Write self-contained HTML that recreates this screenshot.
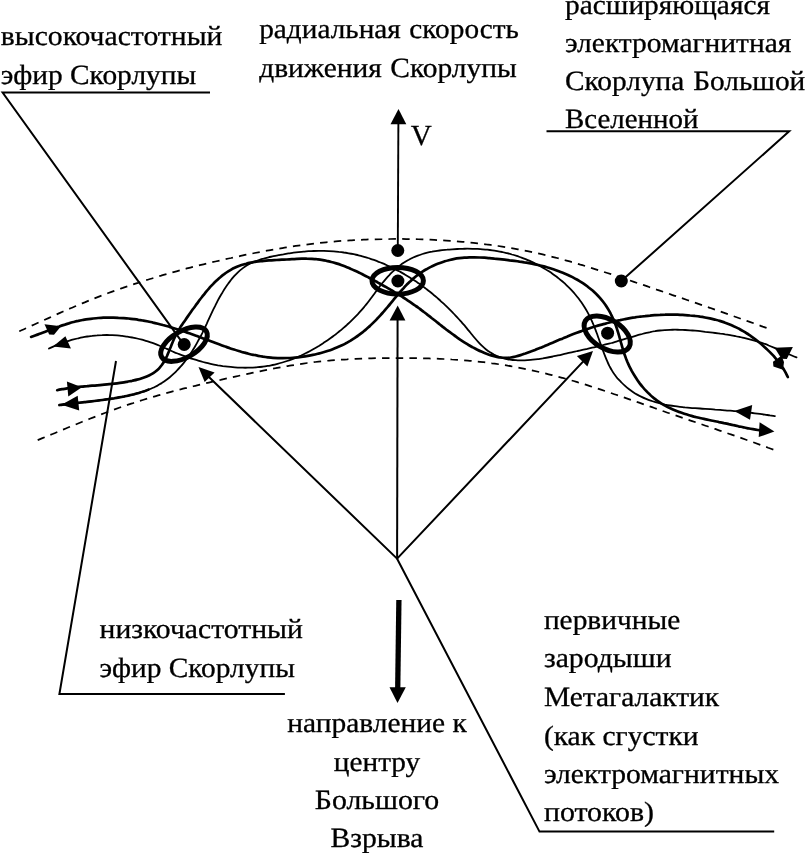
<!DOCTYPE html>
<html lang="ru">
<head>
<meta charset="utf-8">
<title>Скорлупа Большой Вселенной</title>
<style>
html,body{margin:0;padding:0;background:#fff;}
body{width:806px;height:854px;overflow:hidden;position:relative;}
svg{position:absolute;left:0;top:0;display:block;will-change:transform;}
text{font-family:"Liberation Serif",serif;font-size:27.9px;fill:#000;text-rendering:geometricPrecision;stroke:#000;stroke-width:0.3px;stroke-linejoin:round;}
.l{stroke:#000;stroke-width:2;fill:none;stroke-linecap:butt;stroke-linejoin:miter;}
.n{stroke:#000;stroke-width:1.8;fill:none;stroke-linecap:round;stroke-linejoin:round;}
.k{stroke:#000;stroke-width:2.7;fill:none;stroke-linecap:round;stroke-linejoin:round;}
.d{stroke:#000;stroke-width:1.75;fill:none;stroke-dasharray:7.5 6.2;}
.e{stroke:#000;stroke-width:5;fill:none;}
.a{fill:#000;stroke:none;}
</style>
</head>
<body>
<svg width="806" height="854" viewBox="0 0 806 854">
<rect width="806" height="854" fill="#fff"/>

<g id="labels">
<text transform="translate(0.8 45.4) scale(1.0626 1)">высокочастотный</text>
<text transform="translate(0.8 83.7) scale(1.0532 1)">эфир Скорлупы</text>
<text transform="translate(259.2 37.8) scale(1.0500 1)" word-spacing="1.2">радиальная скорость</text>
<text transform="translate(259.2 77.1) scale(1.0542 1)" word-spacing="1.2">движения Скорлупы</text>
<text transform="translate(565 13.7) scale(1.0532 1)">расширяющаяся</text>
<text transform="translate(565 52.1) scale(1.0563 1)">электромагнитная</text>
<text transform="translate(565 90) scale(1.0521 1)" word-spacing="1.4">Скорлупа Большой</text>
<text transform="translate(565 128.3) scale(1.0374 1)">Вселенной</text>
<text x="410.7" y="144.5" style="font-size:29.2px">V</text>
<text transform="translate(99.5 638.3) scale(1.0636 1)">низкочастотный</text>
<text transform="translate(99.5 676.9) scale(1.0532 1)">эфир Скорлупы</text>
<text transform="translate(377 732.2) scale(1.0553 1)" text-anchor="middle">направление к</text>
<text transform="translate(377 771) scale(1.0500 1)" text-anchor="middle">центру</text>
<text transform="translate(377 808.7) scale(1.0689 1)" text-anchor="middle">Большого</text>
<text transform="translate(377 847.1) scale(1.0605 1)" text-anchor="middle">Взрыва</text>
<text transform="translate(543.9 628.6) scale(1.0532 1)">первичные</text>
<text transform="translate(543.9 667.1) scale(1.0657 1)">зародыши</text>
<text transform="translate(543.9 705.6) scale(1.0563 1)">Метагалактик</text>
<text transform="translate(543.9 744.6) scale(1.0584 1)">(как сгустки</text>
<text transform="translate(543.9 783.2) scale(1.0605 1)">электромагнитных</text>
<text transform="translate(543.9 821) scale(1.0710 1)">потоков)</text>
</g>
<g id="dashed">
<path class="d" d="M19.2 331.3C20.4 330.8 24.1 329.1 26.5 328.0C28.9 326.9 31.4 325.8 33.8 324.7C36.3 323.6 38.7 322.5 41.1 321.4C43.6 320.3 46.0 319.2 48.5 318.1C50.9 317.0 53.3 315.9 55.8 314.8C58.2 313.7 60.7 312.6 63.1 311.5C65.6 310.5 68.0 309.4 70.5 308.3C73.0 307.3 75.4 306.2 77.9 305.2C80.4 304.1 82.8 303.1 85.3 302.1C87.8 301.0 90.3 300.0 92.8 299.1C95.2 298.1 97.7 297.1 100.2 296.1C102.7 295.2 105.2 294.2 107.7 293.3C110.2 292.4 112.8 291.4 115.3 290.5C117.8 289.6 120.3 288.7 122.8 287.9C125.4 287.0 127.9 286.1 130.4 285.3C133.0 284.4 135.5 283.6 138.1 282.8C140.6 281.9 143.1 281.1 145.7 280.3C148.2 279.5 150.8 278.8 153.4 278.0C155.9 277.2 158.5 276.4 161.1 275.7C163.6 274.9 166.2 274.2 168.8 273.5C171.3 272.7 173.9 272.0 176.5 271.3C179.1 270.6 181.7 269.9 184.2 269.2C186.8 268.5 189.4 267.9 192.0 267.2C194.6 266.5 197.2 265.9 199.8 265.2C202.4 264.6 205.0 264.0 207.6 263.3C210.2 262.7 212.8 262.1 215.4 261.5C218.0 260.9 220.6 260.3 223.3 259.7C225.9 259.1 228.5 258.5 231.1 258.0C233.7 257.4 236.3 256.8 239.0 256.3C241.6 255.7 244.2 255.2 246.8 254.6C249.4 254.1 252.1 253.6 254.7 253.0C257.3 252.5 259.9 252.0 262.6 251.5C265.2 251.0 267.8 250.6 270.5 250.1C273.1 249.6 275.7 249.2 278.4 248.7C281.0 248.3 283.7 247.8 286.3 247.4C288.9 247.0 291.6 246.6 294.2 246.2C296.9 245.8 299.5 245.5 302.2 245.1C304.8 244.7 307.5 244.4 310.1 244.1C312.8 243.8 315.4 243.5 318.1 243.2C320.7 242.9 323.4 242.6 326.1 242.3C328.7 242.1 331.4 241.8 334.0 241.6C336.7 241.4 339.4 241.1 342.0 240.9C344.7 240.7 347.4 240.6 350.0 240.4C352.7 240.2 355.4 240.1 358.0 239.9C360.7 239.8 363.4 239.7 366.1 239.6C368.7 239.4 371.4 239.3 374.1 239.3C376.8 239.2 379.5 239.1 382.1 239.1C384.8 239.0 387.5 239.0 390.2 239.0C392.8 238.9 395.5 238.9 398.2 238.9C400.9 238.9 403.6 239.0 406.2 239.0C408.9 239.0 411.6 239.1 414.3 239.1C417.0 239.2 419.6 239.3 422.3 239.4C425.0 239.5 427.7 239.6 430.3 239.7C433.0 239.8 435.7 239.9 438.4 240.1C441.0 240.2 443.7 240.4 446.4 240.6C449.1 240.8 451.7 240.9 454.4 241.1C457.1 241.4 459.7 241.6 462.4 241.8C465.1 242.0 467.7 242.3 470.4 242.6C473.1 242.8 475.7 243.1 478.4 243.4C481.0 243.7 483.7 244.0 486.3 244.4C489.0 244.7 491.7 245.1 494.3 245.4C496.9 245.8 499.6 246.2 502.2 246.6C504.9 247.0 507.5 247.4 510.1 247.9C512.8 248.3 515.4 248.8 518.0 249.3C520.7 249.8 523.3 250.3 525.9 250.8C528.5 251.3 531.1 251.9 533.7 252.4C536.4 253.0 539.0 253.6 541.6 254.2C544.2 254.8 546.8 255.4 549.4 256.1C552.0 256.7 554.5 257.4 557.1 258.0C559.7 258.7 562.3 259.4 564.9 260.1C567.5 260.8 570.0 261.6 572.6 262.3C575.2 263.0 577.8 263.8 580.3 264.6C582.9 265.3 585.4 266.1 588.0 266.9C590.6 267.7 593.1 268.5 595.7 269.3C598.2 270.1 600.8 270.9 603.3 271.7C605.9 272.6 608.4 273.4 611.0 274.2C613.5 275.1 616.1 275.9 618.6 276.7C621.2 277.6 623.7 278.4 626.3 279.3C628.8 280.1 631.3 281.0 633.9 281.9C636.4 282.7 639.0 283.6 641.5 284.4C644.0 285.3 646.6 286.1 649.1 287.0C651.6 287.9 654.2 288.7 656.7 289.6C659.2 290.4 661.8 291.3 664.3 292.2C666.8 293.0 669.4 293.9 671.9 294.8C674.4 295.6 677.0 296.5 679.5 297.4C682.0 298.2 684.5 299.1 687.1 300.0C689.6 300.8 692.1 301.7 694.7 302.6C697.2 303.5 699.7 304.3 702.2 305.2C704.8 306.1 707.3 307.0 709.8 307.8C712.3 308.7 714.9 309.6 717.4 310.5C719.9 311.4 722.4 312.2 725.0 313.1C727.5 314.0 730.0 314.9 732.5 315.8C735.1 316.7 737.6 317.6 740.1 318.5C742.6 319.4 745.1 320.3 747.7 321.2C750.2 322.0 752.7 322.9 755.2 323.8C757.8 324.7 760.3 325.6 762.8 326.6C765.3 327.5 769.1 328.8 770.4 329.3"/>
<path class="d" d="M37.7 440.1C38.9 439.6 42.6 438.1 45.1 437.1C47.6 436.0 50.0 435.0 52.5 434.0C55.0 432.9 57.5 431.9 59.9 430.9C62.4 429.9 64.9 428.8 67.4 427.8C69.9 426.8 72.3 425.8 74.8 424.8C77.3 423.8 79.8 422.8 82.3 421.8C84.8 420.8 87.3 419.8 89.8 418.8C92.3 417.8 94.7 416.9 97.2 415.9C99.7 414.9 102.2 414.0 104.8 413.0C107.3 412.1 109.8 411.2 112.3 410.2C114.8 409.3 117.3 408.4 119.8 407.5C122.4 406.7 124.9 405.8 127.4 404.9C130.0 404.1 132.5 403.2 135.1 402.4C137.6 401.6 140.1 400.8 142.7 400.0C145.3 399.2 147.8 398.4 150.4 397.7C153.0 396.9 155.5 396.1 158.1 395.4C160.7 394.7 163.3 394.0 165.8 393.3C168.4 392.6 171.0 391.9 173.6 391.2C176.2 390.5 178.8 389.8 181.4 389.2C184.0 388.5 186.6 387.9 189.2 387.2C191.8 386.6 194.4 385.9 197.0 385.3C199.6 384.7 202.2 384.1 204.9 383.5C207.5 382.8 210.1 382.2 212.7 381.6C215.3 381.0 217.9 380.4 220.6 379.9C223.2 379.3 225.8 378.7 228.4 378.1C231.0 377.5 233.7 376.9 236.3 376.3C238.9 375.8 241.5 375.2 244.1 374.6C246.8 374.0 249.4 373.5 252.0 372.9C254.6 372.3 257.3 371.8 259.9 371.3C262.5 370.7 265.1 370.2 267.8 369.7C270.4 369.1 273.0 368.6 275.6 368.2C278.3 367.7 280.9 367.2 283.5 366.7C286.2 366.3 288.8 365.8 291.5 365.4C294.1 365.0 296.7 364.6 299.4 364.2C302.0 363.8 304.7 363.4 307.3 363.0C310.0 362.7 312.6 362.4 315.3 362.0C317.9 361.7 320.6 361.4 323.2 361.2C325.9 360.9 328.6 360.6 331.2 360.4C333.9 360.2 336.6 360.0 339.2 359.8C341.9 359.6 344.6 359.4 347.2 359.3C349.9 359.1 352.6 359.0 355.3 358.9C357.9 358.7 360.6 358.6 363.3 358.6C366.0 358.5 368.7 358.4 371.3 358.3C374.0 358.3 376.7 358.2 379.4 358.1C382.1 358.1 384.8 358.1 387.4 358.0C390.1 358.0 392.8 358.0 395.5 358.0C398.2 358.0 400.9 358.0 403.6 358.0C406.2 358.0 408.9 358.1 411.6 358.1C414.3 358.1 417.0 358.2 419.7 358.2C422.4 358.3 425.0 358.4 427.7 358.4C430.4 358.5 433.1 358.6 435.8 358.7C438.5 358.8 441.1 358.9 443.8 359.0C446.5 359.2 449.2 359.3 451.9 359.5C454.5 359.6 457.2 359.8 459.9 360.0C462.6 360.2 465.2 360.4 467.9 360.6C470.6 360.8 473.2 361.1 475.9 361.4C478.6 361.6 481.2 361.9 483.9 362.2C486.5 362.6 489.2 362.9 491.8 363.3C494.5 363.6 497.1 364.0 499.8 364.4C502.4 364.8 505.1 365.2 507.7 365.7C510.3 366.1 513.0 366.6 515.6 367.1C518.2 367.6 520.9 368.1 523.5 368.6C526.1 369.1 528.7 369.7 531.4 370.2C534.0 370.8 536.6 371.4 539.2 372.0C541.8 372.6 544.4 373.2 547.0 373.8C549.6 374.5 552.2 375.1 554.8 375.8C557.4 376.5 560.0 377.2 562.6 377.9C565.1 378.6 567.7 379.3 570.3 380.1C572.9 380.8 575.4 381.6 578.0 382.4C580.6 383.1 583.1 383.9 585.7 384.7C588.2 385.5 590.8 386.3 593.3 387.2C595.9 388.0 598.4 388.8 601.0 389.7C603.5 390.5 606.1 391.3 608.6 392.2C611.2 393.1 613.7 393.9 616.2 394.8C618.8 395.7 621.3 396.5 623.9 397.4C626.4 398.3 628.9 399.2 631.5 400.1C634.0 401.0 636.5 401.8 639.1 402.7C641.6 403.6 644.1 404.5 646.7 405.4C649.2 406.3 651.7 407.2 654.3 408.0C656.8 408.9 659.3 409.8 661.8 410.7C664.4 411.6 666.9 412.4 669.4 413.3C672.0 414.2 674.5 415.0 677.0 415.9C679.6 416.8 682.1 417.6 684.6 418.5C687.2 419.4 689.7 420.2 692.2 421.1C694.8 422.0 697.3 422.8 699.8 423.7C702.4 424.6 704.9 425.4 707.4 426.3C710.0 427.2 712.5 428.0 715.0 428.9C717.6 429.8 720.1 430.7 722.6 431.5C725.2 432.4 727.7 433.3 730.2 434.2C732.8 435.0 735.3 435.9 737.8 436.8C740.3 437.7 742.9 438.6 745.4 439.5C747.9 440.4 750.4 441.3 753.0 442.2C755.5 443.1 758.0 444.0 760.5 444.9C763.1 445.8 765.6 446.7 768.1 447.7C770.6 448.6 774.4 450.0 775.7 450.5"/>
</g>
<g id="flows">
<path class="k" d="M31.1 336.9C31.9 336.6 34.3 335.8 35.8 335.2C37.4 334.6 39.0 334.1 40.6 333.5C42.1 332.9 43.7 332.3 45.3 331.7C46.8 331.1 48.4 330.5 49.9 329.9C51.5 329.3 53.1 328.7 54.6 328.2C56.2 327.6 57.7 327.0 59.3 326.5C60.9 325.9 62.4 325.4 64.0 324.9C65.6 324.3 67.2 323.8 68.8 323.4C70.3 322.9 71.9 322.4 73.5 322.0C75.2 321.6 76.8 321.2 78.4 320.9C80.0 320.5 81.7 320.2 83.3 319.9C84.9 319.6 86.6 319.3 88.3 319.1C89.9 318.9 91.6 318.7 93.2 318.5C94.9 318.3 96.6 318.1 98.2 318.0C99.9 317.9 101.6 317.8 103.3 317.7C105.0 317.7 106.6 317.6 108.3 317.6C110.0 317.6 111.7 317.6 113.4 317.6C115.1 317.6 116.8 317.7 118.4 317.8C120.1 317.8 121.8 317.9 123.5 318.1C125.1 318.2 126.8 318.3 128.5 318.5C130.2 318.7 131.8 318.9 133.5 319.1C135.1 319.3 136.8 319.5 138.4 319.8C140.1 320.0 141.7 320.3 143.4 320.6C145.0 320.9 146.6 321.2 148.3 321.5C149.9 321.9 151.5 322.2 153.1 322.6C154.7 322.9 156.3 323.3 157.9 323.7C159.6 324.1 161.2 324.5 162.8 325.0C164.4 325.4 166.0 325.8 167.6 326.3C169.1 326.8 170.7 327.2 172.3 327.7C173.9 328.2 175.5 328.7 177.1 329.2C178.7 329.7 180.3 330.2 181.8 330.7C183.4 331.3 185.0 331.8 186.6 332.4C188.1 332.9 189.7 333.5 191.3 334.0C192.9 334.6 194.5 335.2 196.0 335.7C197.6 336.3 199.2 336.9 200.8 337.5C202.3 338.1 203.9 338.7 205.5 339.2C207.1 339.8 208.6 340.4 210.2 341.0C211.8 341.6 213.4 342.2 214.9 342.8C216.5 343.4 218.1 344.0 219.7 344.5C221.3 345.1 222.8 345.7 224.4 346.3C226.0 346.8 227.6 347.4 229.2 347.9C230.8 348.5 232.4 349.0 234.0 349.5C235.5 350.0 237.1 350.5 238.7 351.0C240.3 351.5 241.9 351.9 243.5 352.4C245.2 352.8 246.8 353.3 248.4 353.7C250.0 354.1 251.6 354.5 253.2 354.8C254.8 355.2 256.5 355.5 258.1 355.8C259.7 356.1 261.4 356.4 263.0 356.7C264.6 356.9 266.3 357.1 267.9 357.3C269.6 357.5 271.2 357.7 272.9 357.8C274.5 357.9 276.2 358.0 277.9 358.1C279.5 358.1 281.2 358.1 282.8 358.1C284.5 358.1 286.2 358.1 287.9 358.0C289.5 358.0 291.2 357.9 292.9 357.8C294.5 357.7 296.2 357.5 297.9 357.3C299.5 357.1 301.2 356.9 302.9 356.7C304.5 356.5 306.2 356.2 307.8 355.9C309.5 355.6 311.1 355.3 312.8 354.9C314.4 354.6 316.1 354.2 317.7 353.8C319.3 353.4 321.0 353.0 322.6 352.5C324.2 352.1 325.8 351.6 327.4 351.0C329.0 350.5 330.6 350.0 332.1 349.4C333.7 348.8 335.3 348.2 336.8 347.5C338.3 346.9 339.9 346.2 341.4 345.5C342.9 344.8 344.4 344.1 345.8 343.3C347.3 342.5 348.7 341.7 350.2 340.9C351.6 340.0 353.0 339.1 354.4 338.2C355.7 337.3 357.1 336.4 358.4 335.4C359.8 334.4 361.1 333.4 362.4 332.4C363.7 331.3 365.0 330.3 366.2 329.2C367.5 328.1 368.7 327.0 370.0 325.9C371.2 324.7 372.4 323.6 373.6 322.4C374.8 321.2 376.0 320.0 377.1 318.8C378.3 317.6 379.4 316.4 380.6 315.1C381.7 313.9 382.8 312.6 383.9 311.4C385.0 310.1 386.1 308.8 387.2 307.5C388.3 306.2 389.4 304.9 390.4 303.6C391.5 302.3 392.6 301.0 393.6 299.7C394.7 298.4 395.8 297.1 396.8 295.9C397.9 294.6 399.0 293.3 400.1 292.0C401.2 290.8 402.3 289.5 403.4 288.3C404.5 287.0 405.6 285.8 406.8 284.6C408.0 283.5 409.1 282.3 410.4 281.2C411.6 280.0 412.8 278.9 414.1 277.9C415.4 276.8 416.7 275.8 418.0 274.8C419.3 273.8 420.7 272.8 422.1 271.9C423.5 271.0 424.9 270.1 426.4 269.3C427.8 268.4 429.3 267.6 430.8 266.9C432.3 266.1 433.8 265.4 435.3 264.7C436.9 264.1 438.4 263.5 440.0 262.9C441.6 262.3 443.2 261.8 444.7 261.3C446.3 260.8 448.0 260.4 449.6 260.0C451.2 259.6 452.8 259.2 454.5 258.9C456.1 258.6 457.7 258.4 459.4 258.2C461.0 258.0 462.7 257.8 464.3 257.7C466.0 257.6 467.6 257.5 469.3 257.4C471.0 257.4 472.6 257.4 474.3 257.4C476.0 257.4 477.7 257.4 479.3 257.5C481.0 257.5 482.7 257.6 484.4 257.7C486.0 257.8 487.7 258.0 489.4 258.1C491.1 258.2 492.8 258.4 494.4 258.6C496.1 258.7 497.8 258.9 499.5 259.1C501.1 259.3 502.8 259.5 504.5 259.7C506.1 259.9 507.8 260.0 509.5 260.3C511.1 260.5 512.8 260.7 514.4 260.9C516.1 261.1 517.8 261.3 519.4 261.6C521.0 261.8 522.7 262.1 524.3 262.4C526.0 262.6 527.6 262.9 529.2 263.2C530.9 263.5 532.5 263.8 534.1 264.2C535.7 264.5 537.4 264.9 539.0 265.2C540.6 265.6 542.2 266.0 543.8 266.4C545.4 266.8 547.0 267.3 548.6 267.7C550.2 268.2 551.8 268.7 553.4 269.2C554.9 269.7 556.5 270.3 558.1 270.9C559.6 271.5 561.2 272.1 562.8 272.7C564.3 273.3 565.9 274.0 567.4 274.7C568.9 275.4 570.4 276.1 572.0 276.9C573.5 277.7 574.9 278.5 576.4 279.3C577.9 280.1 579.3 281.0 580.8 281.9C582.2 282.8 583.6 283.7 585.0 284.7C586.3 285.6 587.7 286.6 589.0 287.7C590.3 288.7 591.6 289.7 592.9 290.8C594.1 291.9 595.3 293.1 596.5 294.2C597.7 295.4 598.8 296.6 599.9 297.8C601.0 299.1 602.1 300.4 603.1 301.7C604.1 303.0 605.1 304.3 606.0 305.7C606.9 307.1 607.8 308.5 608.6 309.9C609.5 311.4 610.3 312.8 611.0 314.3C611.8 315.8 612.5 317.3 613.1 318.9C613.8 320.4 614.5 322.0 615.1 323.5C615.7 325.1 616.2 326.7 616.8 328.3C617.3 329.9 617.8 331.5 618.3 333.1C618.8 334.7 619.3 336.3 619.7 337.9C620.2 339.5 620.6 341.1 621.0 342.7C621.5 344.3 621.9 345.9 622.4 347.5C622.8 349.2 623.3 350.8 623.8 352.3C624.3 353.9 624.9 355.5 625.5 357.1C626.0 358.7 626.7 360.2 627.3 361.8C628.0 363.3 628.7 364.9 629.4 366.4C630.2 367.9 630.9 369.4 631.7 370.9C632.5 372.3 633.4 373.8 634.3 375.2C635.1 376.7 636.1 378.1 637.0 379.5C637.9 380.9 638.9 382.2 639.9 383.6C640.9 384.9 642.0 386.2 643.1 387.5C644.1 388.7 645.3 390.0 646.4 391.2C647.5 392.4 648.7 393.5 649.9 394.6C651.1 395.8 652.4 396.9 653.6 397.9C654.9 398.9 656.2 400.0 657.5 400.9C658.9 401.9 660.2 402.8 661.6 403.6C663.0 404.5 664.4 405.3 665.9 406.1C667.3 406.9 668.8 407.6 670.3 408.3C671.8 409.0 673.3 409.7 674.8 410.3C676.4 411.0 677.9 411.6 679.5 412.1C681.1 412.7 682.7 413.3 684.3 413.8C685.9 414.3 687.5 414.8 689.1 415.2C690.7 415.7 692.4 416.1 694.0 416.6C695.7 417.0 697.3 417.4 699.0 417.8C700.7 418.2 702.3 418.6 704.0 418.9C705.7 419.3 707.3 419.7 709.0 420.0C710.7 420.4 712.3 420.7 714.0 421.0C715.7 421.4 717.3 421.7 719.0 422.1C720.7 422.4 722.3 422.7 724.0 423.1C725.6 423.4 727.2 423.7 728.9 424.1C730.5 424.4 732.1 424.8 733.7 425.2C735.3 425.5 736.9 425.9 738.5 426.3C740.1 426.6 741.7 427.0 743.3 427.3C744.9 427.7 746.4 428.0 748.0 428.3C749.7 428.7 751.3 429.0 752.9 429.2C754.5 429.5 756.2 429.8 757.8 430.0C759.5 430.3 761.2 430.5 762.9 430.6C764.6 430.8 767.2 431.0 768.1 431.0"/>
<path class="k" d="M57.2 390.2C58.0 390.0 60.5 389.5 62.2 389.2C63.8 388.9 65.5 388.7 67.1 388.4C68.8 388.2 70.5 387.9 72.1 387.7C73.8 387.5 75.4 387.3 77.1 387.1C78.8 387.0 80.4 386.8 82.1 386.6C83.8 386.5 85.4 386.3 87.1 386.2C88.8 386.0 90.4 385.9 92.1 385.7C93.8 385.6 95.4 385.5 97.1 385.3C98.8 385.2 100.4 385.1 102.1 384.9C103.8 384.8 105.5 384.6 107.1 384.4C108.8 384.3 110.5 384.1 112.1 383.9C113.8 383.7 115.5 383.5 117.1 383.3C118.8 383.1 120.5 382.9 122.1 382.6C123.8 382.4 125.4 382.1 127.1 381.8C128.8 381.5 130.4 381.1 132.1 380.8C133.7 380.4 135.4 380.1 137.0 379.6C138.7 379.2 140.3 378.8 141.9 378.2C143.5 377.7 145.1 377.2 146.7 376.5C148.2 375.9 149.7 375.2 151.1 374.4C152.6 373.6 153.9 372.8 155.2 371.8C156.5 370.8 157.8 369.8 158.9 368.6C160.0 367.4 161.0 366.1 162.0 364.8C163.0 363.4 163.9 362.0 164.7 360.5C165.5 359.0 166.3 357.5 167.0 356.0C167.7 354.4 168.3 352.8 169.0 351.2C169.6 349.7 170.3 348.0 170.9 346.5C171.5 344.9 172.1 343.3 172.8 341.7C173.4 340.1 174.1 338.6 174.8 337.1C175.5 335.6 176.3 334.1 177.1 332.6C177.9 331.2 178.8 329.8 179.7 328.4C180.5 327.0 181.5 325.6 182.4 324.2C183.3 322.9 184.2 321.5 185.2 320.2C186.1 318.8 187.0 317.5 188.0 316.1C188.9 314.8 189.9 313.4 190.9 312.0C191.8 310.7 192.8 309.3 193.8 308.0C194.8 306.6 195.8 305.3 196.8 303.9C197.8 302.5 198.8 301.2 199.8 299.8C200.8 298.4 201.9 297.1 203.0 295.7C204.0 294.4 205.1 293.1 206.2 291.7C207.3 290.4 208.4 289.1 209.5 287.8C210.7 286.6 211.8 285.3 213.0 284.1C214.1 282.9 215.3 281.7 216.6 280.5C217.8 279.4 219.0 278.2 220.3 277.2C221.6 276.1 222.8 275.1 224.2 274.1C225.5 273.1 226.8 272.2 228.2 271.3C229.6 270.4 231.0 269.6 232.4 268.8C233.9 268.1 235.4 267.4 236.9 266.7C238.4 266.1 239.9 265.5 241.5 265.0C243.0 264.5 244.6 264.1 246.2 263.7C247.8 263.2 249.5 262.9 251.1 262.6C252.8 262.3 254.5 262.0 256.1 261.7C257.8 261.5 259.5 261.3 261.2 261.1C262.9 260.9 264.6 260.8 266.4 260.6C268.1 260.5 269.8 260.4 271.5 260.3C273.2 260.2 275.0 260.1 276.7 260.0C278.4 259.9 280.1 259.8 281.8 259.7C283.5 259.7 285.2 259.6 286.9 259.5C288.6 259.4 290.2 259.3 291.9 259.2C293.5 259.1 295.2 259.0 296.8 258.9C298.5 258.8 300.1 258.7 301.8 258.7C303.4 258.7 305.1 258.6 306.7 258.7C308.3 258.7 310.0 258.7 311.6 258.8C313.2 258.9 314.9 259.0 316.5 259.2C318.2 259.3 319.9 259.6 321.5 259.8C323.2 260.1 324.8 260.4 326.5 260.8C328.1 261.1 329.8 261.5 331.4 262.0C333.1 262.4 334.7 262.9 336.3 263.4C338.0 263.9 339.6 264.4 341.1 265.0C342.7 265.6 344.3 266.2 345.9 266.8C347.4 267.4 349.0 268.0 350.5 268.7C352.1 269.4 353.6 270.1 355.1 270.8C356.6 271.5 358.2 272.2 359.7 272.9C361.2 273.7 362.7 274.4 364.2 275.2C365.7 275.9 367.1 276.7 368.6 277.5C370.1 278.3 371.6 279.1 373.0 279.9C374.5 280.7 376.0 281.5 377.5 282.3C378.9 283.1 380.4 283.9 381.8 284.7C383.3 285.5 384.7 286.3 386.2 287.2C387.6 288.0 389.1 288.8 390.5 289.7C392.0 290.5 393.4 291.4 394.8 292.3C396.2 293.1 397.7 294.0 399.1 294.9C400.5 295.8 401.9 296.6 403.3 297.5C404.7 298.4 406.1 299.4 407.5 300.3C408.9 301.2 410.3 302.1 411.7 303.1C413.0 304.0 414.4 305.0 415.8 306.0C417.2 306.9 418.5 307.9 419.9 308.9C421.2 309.9 422.6 310.9 423.9 312.0C425.3 313.0 426.6 314.0 427.9 315.1C429.3 316.1 430.6 317.1 431.9 318.2C433.2 319.2 434.6 320.3 435.9 321.3C437.2 322.4 438.6 323.4 439.9 324.5C441.2 325.5 442.5 326.6 443.9 327.6C445.2 328.6 446.5 329.7 447.9 330.7C449.2 331.7 450.6 332.7 451.9 333.7C453.3 334.7 454.6 335.7 456.0 336.7C457.4 337.7 458.8 338.6 460.1 339.6C461.5 340.5 462.9 341.4 464.3 342.3C465.7 343.2 467.2 344.1 468.6 345.0C470.0 345.8 471.5 346.6 472.9 347.4C474.4 348.2 475.9 349.0 477.3 349.7C478.8 350.5 480.3 351.2 481.9 351.8C483.4 352.5 484.9 353.1 486.5 353.7C488.0 354.3 489.6 354.9 491.2 355.4C492.8 355.9 494.4 356.3 496.0 356.7C497.7 357.0 499.3 357.3 500.9 357.5C502.6 357.7 504.2 357.8 505.8 357.8C507.5 357.8 509.1 357.7 510.8 357.5C512.4 357.3 514.1 356.9 515.7 356.5C517.3 356.1 519.0 355.6 520.6 355.1C522.2 354.6 523.8 354.0 525.4 353.5C527.0 352.9 528.6 352.3 530.2 351.7C531.8 351.2 533.4 350.6 535.0 350.0C536.5 349.3 538.1 348.7 539.6 348.1C541.2 347.5 542.8 346.8 544.3 346.2C545.8 345.5 547.4 344.9 548.9 344.2C550.5 343.6 552.0 342.9 553.6 342.3C555.1 341.6 556.6 341.0 558.2 340.3C559.7 339.7 561.3 339.0 562.8 338.4C564.3 337.7 565.9 337.1 567.4 336.5C569.0 335.8 570.5 335.2 572.1 334.6C573.6 334.0 575.2 333.4 576.8 332.8C578.3 332.2 579.9 331.6 581.5 331.1C583.1 330.5 584.6 330.0 586.2 329.4C587.8 328.9 589.4 328.4 591.0 327.8C592.6 327.3 594.2 326.8 595.8 326.3C597.4 325.9 599.0 325.4 600.6 324.9C602.3 324.5 603.9 324.0 605.5 323.6C607.1 323.1 608.8 322.7 610.4 322.3C612.0 321.9 613.6 321.5 615.3 321.2C616.9 320.8 618.6 320.4 620.2 320.1C621.8 319.7 623.5 319.4 625.1 319.1C626.8 318.8 628.4 318.5 630.1 318.2C631.7 317.9 633.4 317.6 635.0 317.4C636.7 317.1 638.4 316.9 640.0 316.7C641.7 316.5 643.4 316.2 645.0 316.1C646.7 315.9 648.4 315.7 650.0 315.6C651.7 315.4 653.4 315.3 655.0 315.2C656.7 315.0 658.4 314.9 660.0 314.9C661.7 314.8 663.4 314.7 665.1 314.7C666.7 314.6 668.4 314.6 670.1 314.6C671.8 314.6 673.4 314.6 675.1 314.6C676.8 314.7 678.4 314.7 680.1 314.8C681.8 314.9 683.4 315.0 685.1 315.1C686.8 315.2 688.4 315.3 690.1 315.5C691.8 315.6 693.4 315.8 695.1 316.0C696.8 316.2 698.4 316.4 700.1 316.7C701.7 316.9 703.4 317.2 705.0 317.5C706.7 317.8 708.3 318.1 709.9 318.4C711.6 318.8 713.2 319.2 714.8 319.6C716.4 320.0 718.1 320.4 719.7 320.9C721.3 321.4 722.8 321.9 724.4 322.4C726.0 323.0 727.6 323.6 729.1 324.2C730.7 324.8 732.2 325.5 733.7 326.2C735.3 326.9 736.8 327.6 738.3 328.4C739.7 329.2 741.2 330.0 742.7 330.9C744.1 331.7 745.6 332.6 747.0 333.5C748.4 334.4 749.8 335.4 751.2 336.3C752.6 337.3 754.0 338.3 755.3 339.3C756.6 340.3 758.0 341.4 759.3 342.5C760.6 343.5 761.9 344.6 763.1 345.7C764.4 346.8 765.6 348.0 766.8 349.1C768.0 350.3 769.2 351.4 770.4 352.6C771.5 353.8 772.7 355.0 773.8 356.2C774.9 357.5 775.9 358.7 777.0 360.0C778.0 361.3 779.0 362.6 780.0 363.9C781.0 365.2 781.9 366.6 782.9 368.0C783.8 369.4 784.6 370.9 785.5 372.4C786.3 373.9 787.4 376.2 787.8 377.0"/>
<path class="n" d="M49.0 348.5C49.8 348.1 52.1 347.1 53.7 346.4C55.2 345.7 56.8 345.1 58.3 344.5C59.9 343.9 61.5 343.3 63.0 342.7C64.6 342.2 66.2 341.6 67.8 341.1C69.4 340.6 71.0 340.2 72.6 339.7C74.2 339.3 75.8 338.9 77.4 338.5C79.1 338.1 80.7 337.7 82.3 337.4C83.9 337.1 85.6 336.8 87.2 336.5C88.8 336.3 90.5 336.0 92.1 335.9C93.8 335.7 95.5 335.5 97.1 335.4C98.8 335.2 100.4 335.1 102.1 335.1C103.8 335.0 105.5 335.0 107.1 335.0C108.8 335.0 110.5 335.1 112.2 335.1C113.8 335.2 115.5 335.3 117.2 335.4C118.9 335.6 120.5 335.7 122.2 335.9C123.9 336.1 125.6 336.4 127.2 336.6C128.9 336.9 130.5 337.2 132.2 337.5C133.8 337.8 135.5 338.1 137.1 338.5C138.8 338.9 140.4 339.3 142.0 339.7C143.6 340.2 145.2 340.6 146.8 341.1C148.4 341.6 150.0 342.2 151.6 342.7C153.2 343.2 154.8 343.8 156.3 344.4C157.9 345.0 159.4 345.7 160.9 346.3C162.4 347.0 163.9 347.6 165.4 348.3C167.0 349.0 168.5 349.7 170.0 350.3C171.5 351.0 173.0 351.7 174.5 352.3C176.1 352.9 177.6 353.6 179.2 354.2C180.7 354.8 182.3 355.4 183.9 355.9C185.4 356.5 187.0 357.1 188.6 357.6C190.2 358.2 191.8 358.7 193.4 359.2C195.0 359.7 196.6 360.2 198.2 360.6C199.8 361.1 201.4 361.6 203.0 362.0C204.6 362.4 206.3 362.8 207.9 363.2C209.5 363.6 211.2 364.0 212.8 364.3C214.5 364.6 216.1 365.0 217.8 365.3C219.4 365.5 221.1 365.8 222.7 366.1C224.4 366.3 226.1 366.5 227.7 366.7C229.4 366.9 231.1 367.1 232.7 367.2C234.4 367.4 236.1 367.5 237.8 367.6C239.4 367.6 241.1 367.7 242.8 367.7C244.5 367.8 246.1 367.8 247.8 367.7C249.5 367.7 251.1 367.7 252.8 367.6C254.5 367.5 256.1 367.4 257.8 367.2C259.5 367.1 261.1 366.9 262.8 366.7C264.4 366.5 266.1 366.2 267.7 365.9C269.3 365.7 271.0 365.3 272.6 365.0C274.2 364.7 275.9 364.3 277.5 363.9C279.1 363.5 280.7 363.0 282.3 362.5C283.9 362.1 285.5 361.6 287.1 361.0C288.6 360.5 290.2 359.9 291.8 359.3C293.4 358.8 294.9 358.1 296.5 357.5C298.0 356.8 299.5 356.2 301.1 355.5C302.6 354.8 304.1 354.1 305.6 353.3C307.1 352.6 308.6 351.8 310.1 351.0C311.6 350.2 313.1 349.4 314.5 348.5C316.0 347.7 317.4 346.8 318.9 346.0C320.3 345.1 321.7 344.2 323.1 343.3C324.5 342.3 325.9 341.4 327.3 340.4C328.7 339.5 330.1 338.5 331.4 337.5C332.8 336.5 334.1 335.5 335.5 334.5C336.8 333.4 338.1 332.4 339.4 331.3C340.7 330.3 342.0 329.2 343.2 328.1C344.5 327.0 345.8 325.9 347.0 324.8C348.2 323.7 349.5 322.6 350.7 321.4C351.9 320.2 353.0 319.1 354.2 317.9C355.4 316.7 356.5 315.5 357.7 314.3C358.8 313.1 359.9 311.9 361.0 310.6C362.1 309.4 363.2 308.1 364.3 306.8C365.3 305.6 366.4 304.3 367.4 303.0C368.4 301.7 369.4 300.4 370.4 299.0C371.4 297.7 372.4 296.4 373.4 295.0C374.4 293.7 375.4 292.3 376.4 291.0C377.3 289.6 378.3 288.3 379.3 286.9C380.4 285.6 381.4 284.3 382.4 283.0C383.5 281.7 384.6 280.4 385.7 279.1C386.8 277.8 387.9 276.5 389.1 275.3C390.2 274.1 391.4 272.9 392.7 271.7C393.9 270.5 395.1 269.4 396.4 268.3C397.7 267.2 399.0 266.2 400.4 265.1C401.7 264.1 403.1 263.2 404.5 262.3C405.9 261.4 407.3 260.5 408.8 259.7C410.2 258.9 411.7 258.2 413.2 257.5C414.7 256.8 416.2 256.2 417.8 255.6C419.3 255.0 420.9 254.5 422.5 254.0C424.0 253.5 425.6 253.1 427.3 252.7C428.9 252.3 430.5 252.0 432.1 251.7C433.8 251.3 435.4 251.1 437.1 250.8C438.8 250.6 440.4 250.4 442.1 250.2C443.8 250.0 445.5 249.8 447.1 249.7C448.8 249.5 450.5 249.4 452.2 249.3C453.9 249.2 455.6 249.1 457.2 249.0C458.9 248.9 460.6 248.9 462.3 248.8C464.0 248.8 465.6 248.7 467.3 248.7C469.0 248.7 470.7 248.7 472.4 248.8C474.0 248.8 475.7 248.9 477.4 248.9C479.0 249.0 480.7 249.1 482.4 249.3C484.0 249.4 485.7 249.5 487.3 249.7C489.0 249.9 490.6 250.1 492.3 250.3C493.9 250.5 495.6 250.8 497.2 251.1C498.9 251.4 500.5 251.7 502.2 252.0C503.8 252.4 505.4 252.8 507.0 253.2C508.7 253.6 510.3 254.0 511.9 254.5C513.5 254.9 515.1 255.4 516.7 255.9C518.3 256.5 519.9 257.0 521.5 257.6C523.0 258.2 524.6 258.8 526.2 259.4C527.7 260.1 529.3 260.7 530.8 261.4C532.3 262.1 533.9 262.8 535.4 263.6C536.9 264.3 538.4 265.1 539.8 265.9C541.3 266.7 542.8 267.5 544.2 268.4C545.7 269.3 547.1 270.2 548.5 271.1C549.9 272.0 551.3 272.9 552.7 273.9C554.0 274.8 555.4 275.8 556.7 276.8C558.0 277.9 559.3 278.9 560.6 280.0C561.9 281.0 563.2 282.1 564.4 283.2C565.6 284.4 566.9 285.5 568.0 286.7C569.2 287.8 570.4 289.0 571.5 290.2C572.7 291.5 573.8 292.7 574.9 294.0C575.9 295.2 577.0 296.5 578.0 297.8C579.0 299.1 580.0 300.5 581.0 301.8C582.0 303.2 582.9 304.6 583.8 306.0C584.7 307.4 585.6 308.8 586.4 310.2C587.2 311.7 588.0 313.1 588.8 314.6C589.6 316.1 590.3 317.6 591.0 319.2C591.7 320.7 592.4 322.2 593.1 323.8C593.7 325.4 594.3 326.9 595.0 328.5C595.6 330.1 596.2 331.7 596.8 333.3C597.4 334.8 597.9 336.4 598.5 338.0C599.1 339.6 599.6 341.2 600.2 342.8C600.8 344.4 601.3 346.0 601.9 347.6C602.5 349.1 603.0 350.7 603.6 352.3C604.2 353.8 604.8 355.4 605.4 356.9C606.0 358.4 606.6 359.9 607.3 361.4C607.9 362.9 608.6 364.4 609.3 365.9C610.1 367.3 610.8 368.7 611.7 370.1C612.5 371.5 613.4 372.9 614.4 374.3C615.4 375.6 616.4 377.0 617.5 378.3C618.7 379.5 619.8 380.8 621.0 382.0C622.2 383.3 623.5 384.5 624.8 385.6C626.1 386.8 627.4 387.9 628.8 389.0C630.1 390.0 631.5 391.0 632.9 391.9C634.3 392.9 635.7 393.8 637.2 394.6C638.6 395.4 640.1 396.2 641.6 396.9C643.0 397.6 644.5 398.3 646.1 398.9C647.6 399.6 649.1 400.2 650.7 400.7C652.2 401.2 653.8 401.7 655.4 402.2C656.9 402.7 658.5 403.1 660.1 403.5C661.7 403.9 663.4 404.2 665.0 404.6C666.6 404.9 668.3 405.2 669.9 405.5C671.5 405.8 673.2 406.0 674.9 406.2C676.5 406.5 678.2 406.7 679.9 406.9C681.5 407.1 683.2 407.2 684.9 407.4C686.6 407.5 688.3 407.7 690.0 407.8C691.6 408.0 693.3 408.1 695.0 408.2C696.7 408.3 698.4 408.4 700.1 408.5C701.8 408.7 703.4 408.8 705.1 408.9C706.8 409.0 708.5 409.1 710.2 409.2C711.8 409.3 713.5 409.4 715.2 409.6C716.8 409.7 718.5 409.8 720.2 409.9C721.8 410.1 723.5 410.2 725.1 410.3C726.8 410.5 728.5 410.6 730.1 410.7C731.8 410.9 733.4 411.0 735.1 411.2C736.7 411.3 738.4 411.5 740.0 411.7C741.7 411.8 743.4 412.0 745.0 412.2C746.7 412.3 748.3 412.5 750.0 412.7C751.6 412.9 753.3 413.1 754.9 413.3C756.6 413.5 758.3 413.7 759.9 413.9C761.6 414.2 763.2 414.4 764.9 414.6C766.6 414.9 768.2 415.1 769.9 415.4C771.6 415.6 774.1 416.0 774.9 416.1"/>
<path class="n" d="M59.4 405.1C60.2 404.9 62.7 404.6 64.4 404.4C66.1 404.2 67.7 404.0 69.4 403.8C71.1 403.6 72.7 403.4 74.4 403.2C76.1 403.1 77.7 402.9 79.4 402.7C81.0 402.5 82.7 402.3 84.4 402.1C86.0 401.9 87.7 401.8 89.3 401.6C91.0 401.4 92.7 401.2 94.3 401.0C96.0 400.8 97.6 400.6 99.3 400.4C100.9 400.2 102.6 400.0 104.3 399.7C105.9 399.5 107.6 399.3 109.2 399.0C110.9 398.8 112.5 398.5 114.2 398.3C115.8 398.0 117.5 397.7 119.1 397.4C120.8 397.1 122.4 396.8 124.1 396.5C125.8 396.1 127.4 395.8 129.1 395.4C130.7 395.1 132.3 394.7 134.0 394.3C135.6 393.8 137.3 393.4 138.9 392.9C140.5 392.5 142.1 392.0 143.7 391.4C145.3 390.9 146.9 390.3 148.4 389.7C150.0 389.1 151.5 388.5 153.0 387.8C154.5 387.1 156.0 386.3 157.5 385.6C158.9 384.8 160.3 383.9 161.7 383.1C163.1 382.2 164.5 381.3 165.8 380.3C167.2 379.3 168.5 378.3 169.8 377.2C171.1 376.2 172.3 375.1 173.5 373.9C174.8 372.8 175.9 371.6 177.1 370.4C178.3 369.2 179.4 368.0 180.5 366.7C181.7 365.5 182.7 364.2 183.8 362.8C184.9 361.5 185.9 360.2 186.9 358.8C187.9 357.5 188.9 356.1 189.8 354.7C190.8 353.3 191.7 351.9 192.6 350.4C193.5 349.0 194.4 347.5 195.3 346.1C196.1 344.6 196.9 343.2 197.7 341.7C198.5 340.2 199.3 338.7 200.1 337.3C200.9 335.8 201.6 334.3 202.4 332.8C203.1 331.3 203.8 329.8 204.5 328.3C205.3 326.8 206.0 325.3 206.7 323.8C207.4 322.2 208.1 320.7 208.8 319.2C209.5 317.7 210.2 316.2 210.9 314.7C211.6 313.2 212.3 311.7 213.0 310.2C213.8 308.7 214.5 307.2 215.3 305.7C216.0 304.2 216.8 302.7 217.5 301.2C218.3 299.7 219.1 298.2 219.9 296.8C220.8 295.3 221.6 293.8 222.5 292.4C223.4 290.9 224.2 289.5 225.2 288.1C226.1 286.6 227.1 285.2 228.1 283.8C229.0 282.4 230.1 281.1 231.1 279.8C232.2 278.4 233.3 277.2 234.4 275.9C235.5 274.7 236.7 273.5 237.9 272.3C239.1 271.2 240.3 270.1 241.6 269.1C242.9 268.0 244.2 267.1 245.5 266.2C246.9 265.3 248.3 264.5 249.8 263.7C251.2 263.0 252.7 262.3 254.2 261.7C255.7 261.0 257.3 260.5 258.9 260.0C260.4 259.5 262.0 259.0 263.6 258.6C265.3 258.1 266.9 257.7 268.5 257.3C270.2 256.9 271.8 256.6 273.5 256.2C275.1 255.8 276.8 255.5 278.4 255.2C280.1 254.9 281.8 254.5 283.4 254.3C285.1 254.0 286.8 253.7 288.4 253.4C290.1 253.2 291.8 252.9 293.5 252.7C295.2 252.5 296.8 252.3 298.5 252.1C300.2 251.9 301.9 251.7 303.6 251.6C305.3 251.5 306.9 251.3 308.6 251.2C310.3 251.1 312.0 251.1 313.7 251.0C315.4 250.9 317.1 250.9 318.8 250.9C320.4 250.9 322.1 250.9 323.8 250.9C325.5 250.9 327.2 251.0 328.8 251.1C330.5 251.2 332.2 251.3 333.8 251.4C335.5 251.5 337.2 251.7 338.8 251.9C340.5 252.0 342.2 252.2 343.8 252.5C345.5 252.7 347.1 253.0 348.7 253.3C350.4 253.6 352.0 253.9 353.7 254.2C355.3 254.6 356.9 254.9 358.5 255.3C360.1 255.7 361.7 256.2 363.3 256.6C365.0 257.1 366.5 257.5 368.1 258.0C369.7 258.5 371.3 259.1 372.9 259.6C374.5 260.2 376.0 260.7 377.6 261.3C379.1 261.9 380.7 262.6 382.2 263.2C383.8 263.8 385.3 264.5 386.8 265.2C388.3 265.9 389.9 266.6 391.4 267.3C392.9 268.0 394.4 268.8 395.9 269.6C397.4 270.3 398.8 271.1 400.3 271.9C401.8 272.7 403.2 273.6 404.7 274.4C406.1 275.3 407.6 276.1 409.0 277.0C410.4 277.9 411.8 278.8 413.2 279.7C414.6 280.6 416.0 281.6 417.4 282.5C418.8 283.5 420.2 284.4 421.5 285.4C422.9 286.4 424.2 287.4 425.6 288.4C426.9 289.4 428.2 290.5 429.6 291.5C430.9 292.5 432.2 293.6 433.4 294.7C434.7 295.7 436.0 296.8 437.3 297.9C438.5 299.0 439.8 300.1 441.0 301.3C442.2 302.4 443.5 303.5 444.7 304.7C445.9 305.8 447.1 307.0 448.3 308.1C449.5 309.3 450.6 310.5 451.8 311.7C453.0 312.9 454.1 314.1 455.3 315.3C456.4 316.5 457.6 317.8 458.7 319.0C459.8 320.3 461.0 321.5 462.1 322.8C463.2 324.1 464.3 325.3 465.4 326.6C466.5 327.9 467.6 329.3 468.7 330.6C469.8 331.9 470.8 333.2 471.9 334.5C473.0 335.9 474.1 337.2 475.2 338.5C476.3 339.8 477.4 341.1 478.6 342.3C479.7 343.5 480.9 344.8 482.1 345.9C483.3 347.1 484.5 348.2 485.8 349.2C487.1 350.2 488.4 351.2 489.7 352.1C491.1 353.0 492.5 353.8 493.9 354.6C495.4 355.3 496.8 356.0 498.3 356.6C499.8 357.2 501.4 357.7 502.9 358.2C504.5 358.6 506.1 359.0 507.7 359.3C509.3 359.6 511.0 359.8 512.7 360.0C514.3 360.2 516.0 360.2 517.7 360.3C519.3 360.4 521.0 360.4 522.7 360.3C524.4 360.3 526.0 360.2 527.7 360.1C529.4 360.0 531.1 359.9 532.7 359.7C534.4 359.5 536.1 359.3 537.8 359.1C539.4 358.9 541.1 358.6 542.8 358.4C544.4 358.1 546.1 357.8 547.8 357.5C549.5 357.2 551.1 356.8 552.8 356.5C554.4 356.1 556.1 355.8 557.8 355.4C559.4 355.1 561.1 354.7 562.7 354.3C564.4 354.0 566.0 353.6 567.7 353.2C569.3 352.8 571.0 352.5 572.6 352.1C574.3 351.7 575.9 351.4 577.5 351.0C579.2 350.7 580.8 350.3 582.4 349.9C584.0 349.6 585.7 349.2 587.3 348.9C588.9 348.5 590.5 348.1 592.1 347.7C593.8 347.4 595.4 347.0 597.0 346.6C598.6 346.2 600.2 345.8 601.8 345.5C603.4 345.1 605.0 344.7 606.7 344.2C608.3 343.8 609.9 343.4 611.5 343.0C613.1 342.5 614.7 342.1 616.3 341.6C617.9 341.2 619.5 340.7 621.1 340.2C622.7 339.7 624.3 339.2 625.9 338.7C627.5 338.2 629.2 337.7 630.8 337.3C632.4 336.8 634.0 336.3 635.6 335.8C637.2 335.3 638.8 334.8 640.5 334.4C642.1 334.0 643.7 333.5 645.3 333.1C647.0 332.8 648.6 332.4 650.2 332.1C651.9 331.7 653.5 331.4 655.1 331.2C656.8 330.9 658.4 330.7 660.1 330.5C661.7 330.3 663.4 330.2 665.0 330.1C666.7 330.0 668.4 329.9 670.0 329.8C671.7 329.8 673.4 329.7 675.0 329.7C676.7 329.7 678.4 329.8 680.0 329.8C681.7 329.9 683.4 329.9 685.1 330.0C686.7 330.1 688.4 330.2 690.1 330.3C691.8 330.4 693.4 330.6 695.1 330.7C696.8 330.9 698.5 331.1 700.2 331.2C701.8 331.4 703.5 331.6 705.2 331.8C706.9 332.0 708.5 332.2 710.2 332.4C711.9 332.6 713.5 332.8 715.2 333.0C716.9 333.2 718.6 333.4 720.2 333.7C721.9 333.9 723.5 334.1 725.2 334.4C726.8 334.6 728.5 334.9 730.2 335.2C731.8 335.5 733.4 335.7 735.1 336.0C736.7 336.4 738.4 336.7 740.0 337.0C741.6 337.4 743.3 337.7 744.9 338.1C746.5 338.5 748.1 338.9 749.7 339.3C751.3 339.7 752.9 340.1 754.5 340.6C756.1 341.1 757.7 341.5 759.3 342.1C760.9 342.6 762.5 343.1 764.0 343.7C765.6 344.2 767.2 344.8 768.7 345.5C770.3 346.1 771.8 346.7 773.4 347.4C774.9 348.0 776.5 348.7 778.0 349.4C779.5 350.1 781.1 350.8 782.6 351.5C784.1 352.1 785.7 352.8 787.2 353.5C788.7 354.2 790.3 354.9 791.8 355.5C793.4 356.2 795.7 357.1 796.5 357.4"/>
<path class="n" style="stroke-width:2.6" d="M59.4 405.1C60.2 404.9 62.7 404.6 64.4 404.4C66.1 404.2 67.7 404.0 69.4 403.8C71.1 403.6 72.7 403.4 74.4 403.2C76.1 403.1 77.7 402.9 79.4 402.7C81.0 402.5 82.7 402.3 84.4 402.1C86.0 401.9 87.7 401.8 89.3 401.6C91.0 401.4 92.7 401.2 94.3 401.0C96.0 400.8 97.6 400.6 99.3 400.4C100.9 400.2 102.6 400.0 104.3 399.7C105.9 399.5 107.6 399.3 109.2 399.0C110.9 398.8 112.5 398.5 114.2 398.3C115.8 398.0 117.5 397.7 119.1 397.4C120.8 397.1 122.4 396.8 124.1 396.5C125.8 396.1 127.4 395.8 129.1 395.4C130.7 395.1 132.3 394.7 134.0 394.3C135.6 393.8 137.3 393.4 138.9 392.9C140.5 392.5 142.1 392.0 143.7 391.4C145.3 390.9 147.6 390.0 148.4 389.7"/>
</g>
<g id="leaders">
<path class="l" d="M210 92.5H2.6L184.2 345.2"/>
<path class="l" d="M546.5 131.3H789.2L621.2 281.1"/>
<path class="l" d="M397.1 558.7L397.6 315"/>
<path class="l" style="stroke-width:1.9" d="M397.8 250L398.4 118"/>
<path class="l" d="M204 372.3L397.1 558.7L588 356.4"/>
<path class="l" d="M397.1 558.7L539.5 831.6H774.2"/>
<path class="l" d="M116 361L59.4 694.1H284.9"/>
<path class="l" style="stroke-width:5.3" d="M398.9 600L397.7 690"/>
</g>
<g id="nodes">
<ellipse class="e" cx="184" cy="344.2" rx="25.8" ry="13.1" transform="rotate(-30 184 344.2)"/>
<ellipse class="e" cx="397.7" cy="280.7" rx="25.7" ry="13.3" transform="rotate(0 397.7 280.7)"/>
<ellipse class="e" cx="607.2" cy="334" rx="25.5" ry="14.5" transform="rotate(31 607.2 334)"/>
<circle class="a" cx="184.2" cy="344.5" r="6.5"/>
<circle class="a" cx="397.9" cy="281" r="6.5"/>
<circle class="a" cx="397.8" cy="250.5" r="6.5"/>
<circle class="a" cx="607.6" cy="333.2" r="6.5"/>
<circle class="a" cx="621.3" cy="281" r="6.5"/>
</g>
<g id="arrowheads">
<polygon class="a" points="398.5,108.9 390.5,124.2 406.3,124.2"/>
<polygon class="a" points="397.7,305.5 389.6,320.4 405.4,320.4"/>
<polygon class="a" points="198.5,367.0 214.6,372.6 204.7,382.0"/>
<polygon class="a" points="593.0,351.1 576.9,356.1 587.4,366.6"/>
<polygon class="a" points="397.5,703.0 389.5,687.2 405.8,687.2"/>
<polygon class="a" points="61.0,326.2 44.5,324.2 49.2,334.6 54.0,334.8"/>
<polygon class="a" points="53.0,346.6 65.4,336.2 70.9,348.4"/>
<polygon class="a" points="81.8,387.2 66.9,381.4 68.3,396.6"/>
<polygon class="a" points="61.5,404.8 77.7,395.7 79.2,410.5"/>
<polygon class="a" points="774.6,347.8 792.9,347.0 786.8,358.9 781.5,358.7"/>
<polygon class="a" points="781.4,355.8 773.0,361.8 773.4,366.6 783.0,369.8 784.0,362.0"/>
<polygon class="a" points="734.3,410.9 752.2,405.0 750.0,419.8"/>
<polygon class="a" points="774.4,431.4 759.6,422.3 758.7,437.1"/>
</g>
</svg>
</body>
</html>
